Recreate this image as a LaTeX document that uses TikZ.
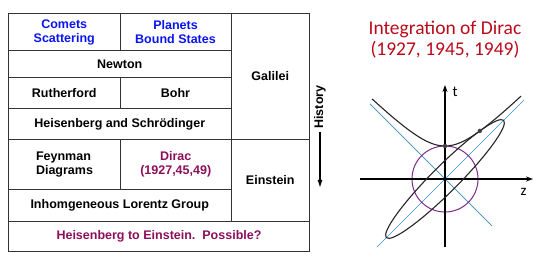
\documentclass[tikz,border=0pt]{standalone}
\usepackage{fontspec}
\setmainfont{Liberation Sans}
\newfontfamily\calibri{Carlito}
\usetikzlibrary{positioning}
\usetikzlibrary{arrows.meta}
\usetikzlibrary{calc}
\definecolor{rule}{HTML}{333333}
\definecolor{blueword}{HTML}{0A14F0}
\definecolor{plum}{HTML}{8C0F5A}
\definecolor{titlered}{HTML}{BA0A1A}
\definecolor{cone}{HTML}{3A8CC0}
\definecolor{ring}{HTML}{7E2A8E}

\begin{document}
\begin{tikzpicture}[x=1pt, y=1pt,
                    cell/.style={draw=rule, line width=1pt, anchor=north west, inner sep=0pt,
                                 align=center, font=\bfseries\fontsize{12.5}{14}\selectfont},
                    axis/.style={line width=1.2pt, -{Stealth[length=7pt, width=5pt]}},
                    curve/.style={line width=1.1pt, black!85}]

  \useasboundingbox (0,0) rectangle (550,264);

  \node[cell, minimum width=111.5pt, minimum height=37pt, text=blueword] (comets)  at (8,251)     {Comets\\Scattering};
  \node[cell, minimum width=111pt,   minimum height=37pt, text=blueword] (planets) at (119.5,251) {Planets\\Bound States};
  \node[cell, minimum width=78.5pt,  minimum height=126pt]               (galilei) at (230.5,251) {Galilei};
  \node[cell, minimum width=222.5pt, minimum height=27pt]                (newton)  at (8,214)     {Newton};
  \node[cell, minimum width=111.5pt, minimum height=31pt]                (ruth)    at (8,187)     {Rutherford};
  \node[cell, minimum width=111pt,   minimum height=31pt]                (bohr)    at (119.5,187) {Bohr};
  \node[cell, minimum width=222.5pt, minimum height=31pt]                (heisen)  at (8,156)     {Heisenberg and Schrödinger};
  \node[cell, minimum width=112pt,   minimum height=50pt, align=left]    (feynman) at (8,125)     {Feynman\\Diagrams};
  \node[cell, minimum width=110.5pt, minimum height=50pt, text=plum]     (dirac)   at (120,125)   {Dirac\\(1927,45,49)};
  \node[cell, minimum width=78.5pt,  minimum height=82pt]                (einstein) at (230.5,125) {Einstein};
  \node[cell, minimum width=222.5pt, minimum height=32pt]                (lorentz) at (8,75)      {Inhomgeneous Lorentz Group};
  \node[cell, minimum width=301pt,   minimum height=30pt, text=plum]     (possible) at (8,43)     {Heisenberg to Einstein.\ \ Possible?};

  \node[rotate=90, inner sep=3pt, font=\bfseries\fontsize{12.5}{14}\selectfont] (history) at (320,157) {History};
  \coordinate (histend) at (320,76);
  \draw[line width=1.2pt, -{Latex[length=8pt, width=5pt]}] (history.west) -- (histend);

  \node[font=\calibri\fontsize{19.5}{21}\selectfont, text=titlered, align=center] (title) at (445,224)
    {Integration of Dirac\\(1927, 1945, 1949)};

  \begin{scope}[shift={(445,85)}]
    \coordinate (o)    at (0,0);
    \coordinate (tbot) at (0,-68);
    \coordinate (ttop) at (0,94);
    \coordinate (zlft) at (-85,0);
    \coordinate (zrgt) at (88,0);

    \draw[cone, line width=0.7pt] (-68,-68) -- (79,79);
    \draw[cone, line width=0.7pt] (-75,75) -- (47,-47);
    \draw[ring, line width=1pt] (o) circle [radius=33pt];

    \draw[axis] (tbot) -- (ttop);
    \draw[axis] (zlft) -- (zrgt);
    \node[font=\calibri\fontsize{15}{16}\selectfont, right=4pt of ttop, yshift=-7pt] (tlabel) {t};
    \node[font=\calibri\fontsize{15}{16}\selectfont, below left=6pt and 3pt of zrgt] (zlabel) {z};

    \draw[curve] plot[domain=-73:76, samples=80] (\x, {sqrt(33*33+\x*\x)});
    \draw[curve, rotate=45] (o) ellipse [x radius=83pt, y radius=13.2pt];

    \fill[black!75] (0,33) circle [radius=2.2pt];
    \fill[black!75] (34.9,48.1) circle [radius=2.2pt];
  \end{scope}

\end{tikzpicture}
\end{document}
